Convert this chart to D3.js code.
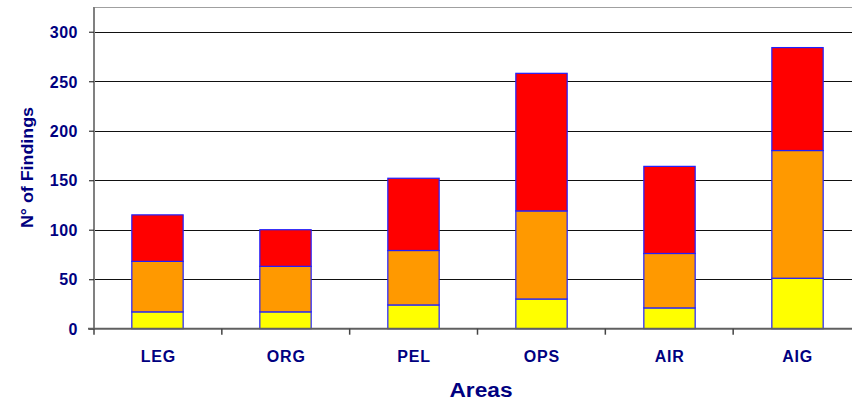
<!DOCTYPE html>
<html><head><meta charset="utf-8">
<script src="https://cdn.jsdelivr.net/npm/d3@7"></script>
<style>
html,body{margin:0;padding:0;background:#fff;}
svg{display:block;}
text{font-family:"Liberation Sans",Arial,sans-serif;font-weight:bold;fill:#000080;}
</style></head>
<body>
<script>
const categories = ["LEG","ORG","PEL","OPS","AIR","AIG"];
const yellowValues = [17, 17, 24, 30, 21, 51];
const orangeValues = [51, 46, 55, 89, 55, 129];
const redValues    = [47, 37, 73, 139, 88, 104];
const seriesKeys = ["yellow","orange","red"];
const seriesColors = {yellow:"#FFFF00", orange:"#FF9900", red:"#FF0000"};
const yTicks = [0, 50, 100, 150, 200, 250, 300];
const yTitle = "N° of Findings";
const xTitle = "Areas";

const W = 852, H = 401;
const pLeft = 94, pRight = 861, pTop = 7, pBottom = 328.7;

const rows = categories.map((c,i)=>({cat:c, yellow:yellowValues[i], orange:orangeValues[i], red:redValues[i]}));
const stack = d3.stack().keys(seriesKeys)(rows);

const svg = d3.select("body").append("svg").attr("width",W).attr("height",H);

const xCell = d3.scaleBand().domain(categories).range([pLeft,pRight]).padding(0);
const xBar = d3.scaleBand().domain(categories).range([pLeft,pRight]).paddingInner(0.599).paddingOuter(0.2955);
const y = d3.scaleLinear().domain([0,325]).range([pBottom, pTop]);

// plot border top
svg.append("line").attr("x1",pLeft).attr("x2",pRight).attr("y1",pTop+0.5).attr("y2",pTop+0.5)
  .attr("stroke","#a0a0a0").attr("stroke-width",1);

// gridlines
svg.append("g").selectAll("line").data(yTicks.filter(t=>t>0)).join("line")
  .attr("x1",pLeft).attr("x2",pRight)
  .attr("y1",d=>Math.round(y(d))+0.5).attr("y2",d=>Math.round(y(d))+0.5)
  .attr("stroke","#111").attr("stroke-width",1);

// bars
svg.append("g").selectAll("g").data(stack).join("g")
  .attr("fill",d=>seriesColors[d.key])
  .selectAll("rect").data(d=>d).join("rect")
  .attr("x",d=>xBar(d.data.cat))
  .attr("width",xBar.bandwidth())
  .attr("y",d=>y(d[1]))
  .attr("height",d=>y(d[0])-y(d[1]))
  .attr("stroke","#2020ff").attr("stroke-width",1.2);

// y axis
const yAxis = d3.axisLeft(y).tickValues(yTicks).tickSize(5).tickPadding(11).tickFormat(d3.format("d"));
const gy = svg.append("g").attr("transform",`translate(${pLeft},0)`).call(yAxis);
gy.attr("font-family",null).attr("font-size",null);
gy.select(".domain").attr("stroke","#808080").attr("stroke-width",2).attr("d",`M0,${pTop}V${pBottom}`);
gy.selectAll(".tick line").attr("stroke","#333").attr("stroke-width",1.2);
gy.selectAll(".tick text")
  .style("font-size","16px").style("letter-spacing","0.5px")
  .attr("fill","#000080").attr("dy","0.36em");

// x axis
const gx = svg.append("g").attr("transform",`translate(0,${pBottom})`);
gx.append("line").attr("x1",pLeft-6).attr("x2",pRight).attr("y1",0).attr("y2",0)
  .attr("stroke","#606060").attr("stroke-width",2);
gx.selectAll("line.tk").data(categories).join("line").attr("class","tk")
  .attr("x1",d=>xCell(d)).attr("x2",d=>xCell(d)).attr("y1",0).attr("y2",6)
  .attr("stroke","#444").attr("stroke-width",1.5);
gx.selectAll("text.lbl").data(categories).join("text").attr("class","lbl")
  .attr("x",d=>xCell(d)+xCell.bandwidth()/2+0.5).attr("y",33)
  .attr("text-anchor","middle").style("font-size","16px").style("letter-spacing","0.8px")
  .text(d=>d);

// titles
svg.append("text").attr("x",481).attr("y",396.5).attr("text-anchor","middle")
  .style("font-size","20px").attr("textLength",63).attr("lengthAdjust","spacingAndGlyphs").text(xTitle);
svg.append("text").attr("transform",`translate(32.5,167.5) rotate(-90)`).attr("text-anchor","middle")
  .style("font-size","16px").attr("textLength",121).attr("lengthAdjust","spacingAndGlyphs").text(yTitle);
</script>
</body></html>
